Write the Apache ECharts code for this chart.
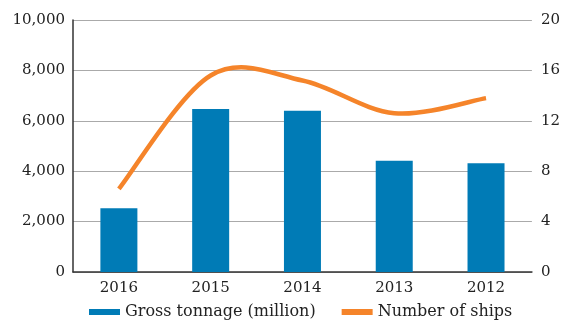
<!DOCTYPE html>
<html>
<head>
<meta charset="utf-8">
<script src="https://cdn.jsdelivr.net/npm/echarts@6/dist/echarts.min.js"></script>
<style>
  html, body { margin: 0; padding: 0; background: #fff; }
  #chart { width: 563px; height: 322px; }
</style>
</head>
<body>
<div id="chart"></div>
<script>
  /* data */
  const years = ['2016', '2015', '2014', '2013', '2012'];
  const grossTonnage = [2530, 6470, 6400, 4410, 4320];
  const numberOfShips = [6.6, 15.6, 15.2, 12.6, 13.8];

  const chart = echarts.init(document.getElementById('chart'));
  const font = 'DejaVu Serif';
  const orange = '#f5842a';

  // catmull-rom curve through the points, like the spreadsheet smoothing
  function smoothPath(pts) {
    let d = 'M' + pts[0][0] + ',' + pts[0][1];
    for (let i = 0; i < pts.length - 1; i++) {
      const p0 = pts[Math.max(i - 1, 0)];
      const p1 = pts[i];
      const p2 = pts[i + 1];
      const p3 = pts[Math.min(i + 2, pts.length - 1)];
      const c1 = [p1[0] + (p2[0] - p0[0]) / 6, p1[1] + (p2[1] - p0[1]) / 6];
      const c2 = [p2[0] - (p3[0] - p1[0]) / 6, p2[1] - (p3[1] - p1[1]) / 6];
      d += 'C' + c1.join(',') + ' ' + c2.join(',') + ' ' + p2.join(',');
    }
    return d;
  }

  const option = {
    animation: false,
    textStyle: { fontFamily: font },
    grid: { left: 73, right: 30, top: 20, bottom: 50 },
    legend: {
      top: 304,
      left: 89,
      padding: 0,
      itemWidth: 31,
      itemHeight: 6,
      itemGap: 26,
      textStyle: { fontFamily: font, fontSize: 16, color: '#222' },
      data: [
        { name: 'Gross tonnage (million)', icon: 'rect' },
        { name: 'Number of ships', icon: 'rect', itemStyle: { color: orange } }
      ]
    },
    xAxis: {
      type: 'category',
      data: years,
      axisLine: { lineStyle: { color: '#333', width: 1.5 } },
      axisTick: { show: false },
      axisLabel: { color: '#222', fontSize: 15, margin: 9, fontFamily: font }
    },
    yAxis: [
      {
        type: 'value',
        min: 0, max: 10000, interval: 2000,
        axisLine: { show: true, lineStyle: { color: '#333', width: 1.5 } },
        axisTick: { show: false },
        splitLine: { lineStyle: { color: '#aaa' } },
        axisLabel: {
          color: '#222', fontSize: 15, margin: 8, fontFamily: font,
          formatter: v => v.toLocaleString('en-US')
        }
      },
      {
        type: 'value',
        min: 0, max: 20, interval: 4,
        axisLine: { show: false },
        axisTick: { show: false },
        splitLine: { show: false },
        axisLabel: { color: '#222', fontSize: 15, margin: 9, fontFamily: font }
      }
    ],
    series: [
      {
        name: 'Gross tonnage (million)',
        type: 'bar',
        data: grossTonnage,
        barWidth: 37,
        itemStyle: { color: '#007bb6' }
      },
      {
        name: 'Number of ships',
        type: 'custom',
        yAxisIndex: 1,
        data: numberOfShips.map((v, i) => [i, v]),
        itemStyle: { color: orange },
        renderItem: function (params, api) {
          if (params.dataIndex !== 0) return null;
          const pts = numberOfShips.map((v, i) => api.coord([i, v]));
          return {
            type: 'path',
            shape: { pathData: smoothPath(pts) },
            style: { fill: null, stroke: orange, lineWidth: 4.5, lineCap: 'butt' }
          };
        }
      }
    ]
  };

  chart.setOption(option);
</script>
</body>
</html>
